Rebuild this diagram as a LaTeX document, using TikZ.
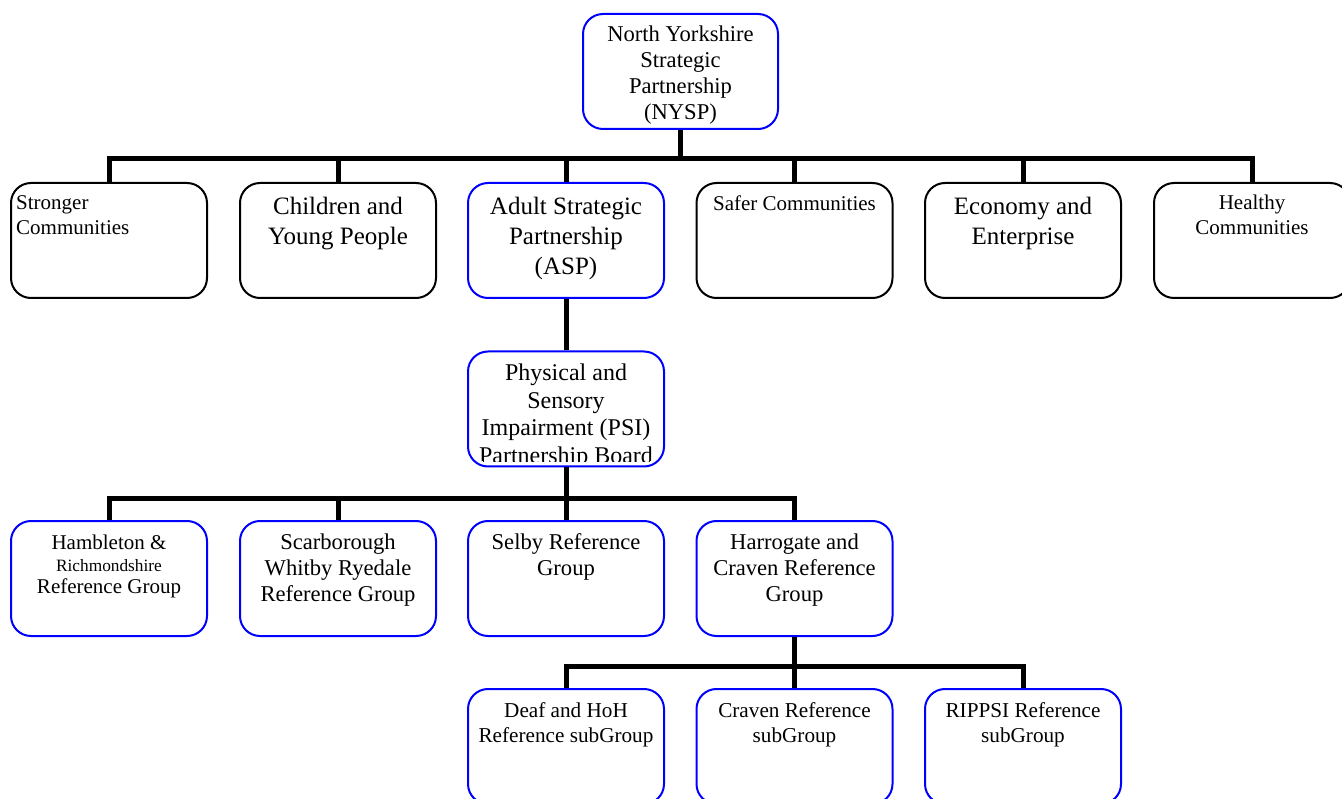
\documentclass[tikz,border=0pt]{standalone}
\usepackage{fontspec}
\setmainfont{Liberation Serif}
\definecolor{nyblue}{RGB}{0,0,255}
\newcommand{\fs}[2]{\fontsize{#1}{#2}\selectfont}
\newcommand{\st}[1]{\rule{0pt}{#1pt}}
\tikzset{
 box/.style={draw, line width=2pt, rounded corners=20pt, minimum width=196pt, minimum height=115pt, inner sep=0pt},
 bbox/.style={box, draw=black},
 ubox/.style={box, draw=nyblue},
 conn/.style={line width=5pt, black},
 txt/.style={anchor=north, inner sep=0pt, align=center},
}
\begin{document}
\begin{tikzpicture}[x=1pt,y=-1pt]
\useasboundingbox (0,0) rectangle (1342,799);
\clip (0,0) rectangle (1342,799);
% boxes
\node[ubox, minimum width=195pt] (nysp) at (680.5,71.5) {};
\node[bbox] (stronger) at (109,240.5) {};
\node[bbox] (children) at (338,240.5) {};
\node[ubox] (asp) at (566,240.5) {};
\node[bbox] (safer) at (794.5,240.5) {};
\node[bbox] (economy) at (1023,240.5) {};
\node[bbox] (healthy) at (1252,240.5) {};
\node[ubox] (psi) at (566,409) {};
\node[ubox] (hamb) at (109,578.5) {};
\node[ubox] (scar) at (338,578.5) {};
\node[ubox] (selby) at (566,578.5) {};
\node[ubox] (harr) at (794.5,578.5) {};
\node[ubox] (deaf) at (566,746.5) {};
\node[ubox] (craven) at (794.5,746.5) {};
\node[ubox] (rippsi) at (1023,746.5) {};
% connectors
\foreach \n in {stronger,children,asp,safer,economy,healthy}
  \draw[conn] (nysp.south) -- ++(0,29) -| (\n.north);
\draw[conn] (asp.south) -- (psi.north);
\foreach \n in {hamb,scar,selby,harr}
  \draw[conn] (psi.south) -- ++(0,31) -| (\n.north);
\foreach \n in {deaf,craven,rippsi}
  \draw[conn] (harr.south) -- ++(0,29) -| (\n.north);
% texts
\node[txt, font={\fs{22.6}{26}}] (tnysp) at (nysp.north) {\st{28.5}North Yorkshire\\Strategic\\Partnership\\(NYSP)};
\node[txt, anchor=north west, align=left, font={\fs{21}{25}}] (tstronger) at ([xshift=6pt]stronger.north west) {\st{27}Stronger\\Communities};
\node[txt, font={\fs{25}{30}}] (tchildren) at (children.north) {\st{32}Children and\\Young People};
\node[txt, font={\fs{25}{30}}] (tasp) at (asp.north) {\st{32}Adult Strategic\\Partnership\\(ASP)};
\node[txt, font={\fs{21}{25}}] (tsafer) at (safer.north) {\st{28}Safer Communities};
\node[txt, font={\fs{25}{30}}] (teconomy) at (economy.north) {\st{32}Economy and\\Enterprise};
\node[txt, font={\fs{21}{25}}] (thealthy) at (healthy.north) {\st{27}Healthy\\Communities};
\begin{scope}
\clip[rounded corners=20pt] (psi.north west) rectangle ([yshift=6pt]psi.south east);
\node[txt, font={\fs{24}{27.5}}] (tpsi) at (psi.north) {\st{30}Physical and\\Sensory\\Impairment (PSI)\\Partnership Board};
\end{scope}
\node[txt, font={\fs{21}{22}}] (thamb) at (hamb.north) {\st{29}Hambleton \&\\{\fs{17.3}{22}Richmondshire}\\Reference Group};
\node[txt, font={\fs{22.6}{26}}] (tscar) at (scar.north) {\st{29.5}Scarborough\\Whitby Ryedale\\Reference Group};
\node[txt, font={\fs{22.6}{26}}] (tselby) at (selby.north) {\st{29.5}Selby Reference\\Group};
\node[txt, font={\fs{22.6}{26}}] (tharr) at (harr.north) {\st{29.5}Harrogate and\\Craven Reference\\Group};
\node[txt, font={\fs{21.2}{25}}] (tdeaf) at (deaf.north) {\st{29}Deaf and HoH\\Reference subGroup};
\node[txt, font={\fs{21.2}{25}}] (tcraven) at (craven.north) {\st{29}Craven Reference\\subGroup};
\node[txt, font={\fs{21.2}{25}}] (trippsi) at (rippsi.north) {\st{29}RIPPSI Reference\\subGroup};
\end{tikzpicture}
\end{document}
